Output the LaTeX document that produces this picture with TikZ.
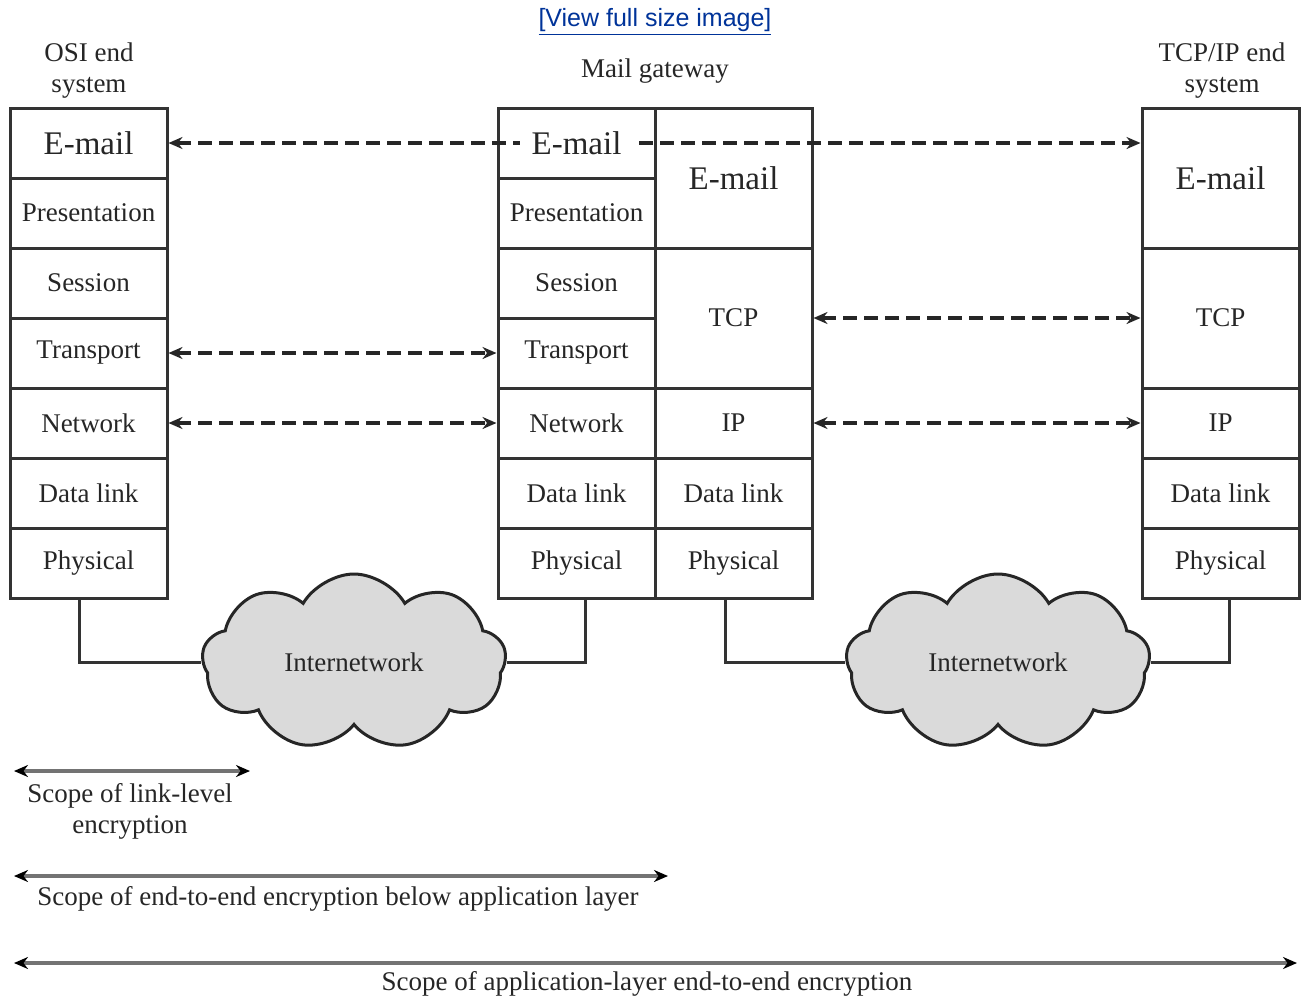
\documentclass[tikz,border=0pt]{standalone}
\usepackage{fontspec}
\setmainfont{Liberation Serif}
\newfontfamily\linkfont{Liberation Sans}
\usetikzlibrary{arrows.meta,positioning,calc,shapes.symbols}
\definecolor{linkblue}{RGB}{0,51,153}
\definecolor{cloudgray}{RGB}{218,218,218}
\tikzset{
  cell/.style={draw=black!80, line width=1.5pt, minimum width=78.5pt, minimum height=35pt,
    inner sep=0pt, text=black!85, font=\fontsize{13.5}{15.5}\selectfont},
  tallcell/.style={cell, minimum height=70pt},
  appfont/.style={font=\fontsize{16.5}{18}\selectfont},
  caption/.style={text=black!85, align=center, font=\fontsize{13.5}{15.5}\selectfont},
  peer/.style={dash pattern=on 7pt off 3.5pt, line width=1.6pt, draw=black!85,
    {Stealth[length=7pt,width=6pt]}-{Stealth[length=7pt,width=6pt]}},
  reach/.style={line width=1.6pt, draw=black!55,
    {Stealth[length=7pt,width=6pt,color=black]}-{Stealth[length=7pt,width=6pt,color=black]}},
  wire/.style={line width=1.5pt, draw=black!80},
  net/.style={cloud, cloud puffs=9, cloud puff arc=120, aspect=1.75, draw=black!85,
    line width=1.5pt, fill=cloudgray, minimum width=152pt, minimum height=88pt,
    text=black!85, font=\fontsize{13.5}{15.5}\selectfont}
}
\begin{document}
\begin{tikzpicture}[x=0.5pt, y=-0.5pt]
\useasboundingbox (0,0) rectangle (1301,997);

\node[text=linkblue, font=\linkfont\fontsize{12.5}{14}\selectfont] (view) at (655,22) {\underline{[View full size image]}};
\node[caption] (osi-title) at (89,71) {OSI end\\system};
\node[caption] (gw-title) at (655,71) {Mail gateway};
\node[caption] (tcp-title) at (1222,71) {TCP/IP end\\system};

\node[cell, appfont] (osi-app) at (88.5,143) {E-mail};
\node[cell] (osi-pre) at (88.5,213) {Presentation};
\node[cell] (osi-ses) at (88.5,283) {Session};
\node[cell] (osi-tra) at (88.5,353) {Transport};
\node[cell] (osi-net) at (88.5,423) {Network};
\node[cell] (osi-dl) at (88.5,493) {Data link};
\node[cell] (osi-phy) at (88.5,563) {Physical};

\node[cell] (gw-app) at (576.5,143) {};
\node[cell] (gw-pre) at (576.5,213) {Presentation};
\node[cell] (gw-ses) at (576.5,283) {Session};
\node[cell] (gw-tra) at (576.5,353) {Transport};
\node[cell] (gw-net) at (576.5,423) {Network};
\node[cell] (gw-dl) at (576.5,493) {Data link};
\node[cell] (gw-phy) at (576.5,563) {Physical};

\node[tallcell, appfont] (gw-mail) at (733.5,178) {E-mail};
\node[tallcell] (gw-tcp) at (733.5,318) {TCP};
\node[cell] (gw-ip) at (733.5,423) {IP};
\node[cell] (gw-ipdl) at (733.5,493) {Data link};
\node[cell] (gw-ipphy) at (733.5,563) {Physical};

\node[tallcell, appfont] (tcp-app) at (1220.5,178) {E-mail};
\node[tallcell] (tcp-tcp) at (1220.5,318) {TCP};
\node[cell] (tcp-ip) at (1220.5,423) {IP};
\node[cell] (tcp-dl) at (1220.5,493) {Data link};
\node[cell] (tcp-phy) at (1220.5,563) {Physical};

\draw[peer] (osi-app.east) -- (osi-app.east -| tcp-app.west);
\draw[peer] (osi-tra.east) -- (gw-tra.west);
\draw[peer] (osi-net.east) -- (gw-net.west);
\draw[peer] (gw-tcp.east) -- (tcp-tcp.west);
\draw[peer] (gw-ip.east) -- (tcp-ip.west);
\node[fill=white, inner xsep=6pt, inner ysep=2pt, text=black!85, appfont] (gw-app-text) at (gw-app) {E-mail};

\node[net] (net1) at (354,662) {Internetwork};
\node[net] (net2) at (998,662) {Internetwork};
\draw[wire] ([xshift=-4.75pt]osi-phy.south) |- (net1.west);
\draw[wire] ([xshift=4.25pt]gw-phy.south) |- (net1.east);
\draw[wire] ([xshift=-4.25pt]gw-ipphy.south) |- (net2.west);
\draw[wire] ([xshift=4.25pt]tcp-phy.south) |- (net2.east);

\coordinate (link-l) at (14,771);
\coordinate (link-r) at (250,771);
\coordinate (below-l) at (14,876);
\coordinate (below-r) at (668,876);
\coordinate (app-l) at (14,963);
\coordinate (app-r) at (1297,963);
\draw[reach] (link-l) -- (link-r);
\draw[reach] (below-l) -- (below-r);
\draw[reach] (app-l) -- (app-r);
\node[caption] (link-text) at (130,811) {Scope of link-level\\encryption};
\node[caption] (below-text) at (338,899) {Scope of end-to-end encryption below application layer};
\node[caption] (app-text) at (647,984) {Scope of application-layer end-to-end encryption};
\end{tikzpicture}
\end{document}
